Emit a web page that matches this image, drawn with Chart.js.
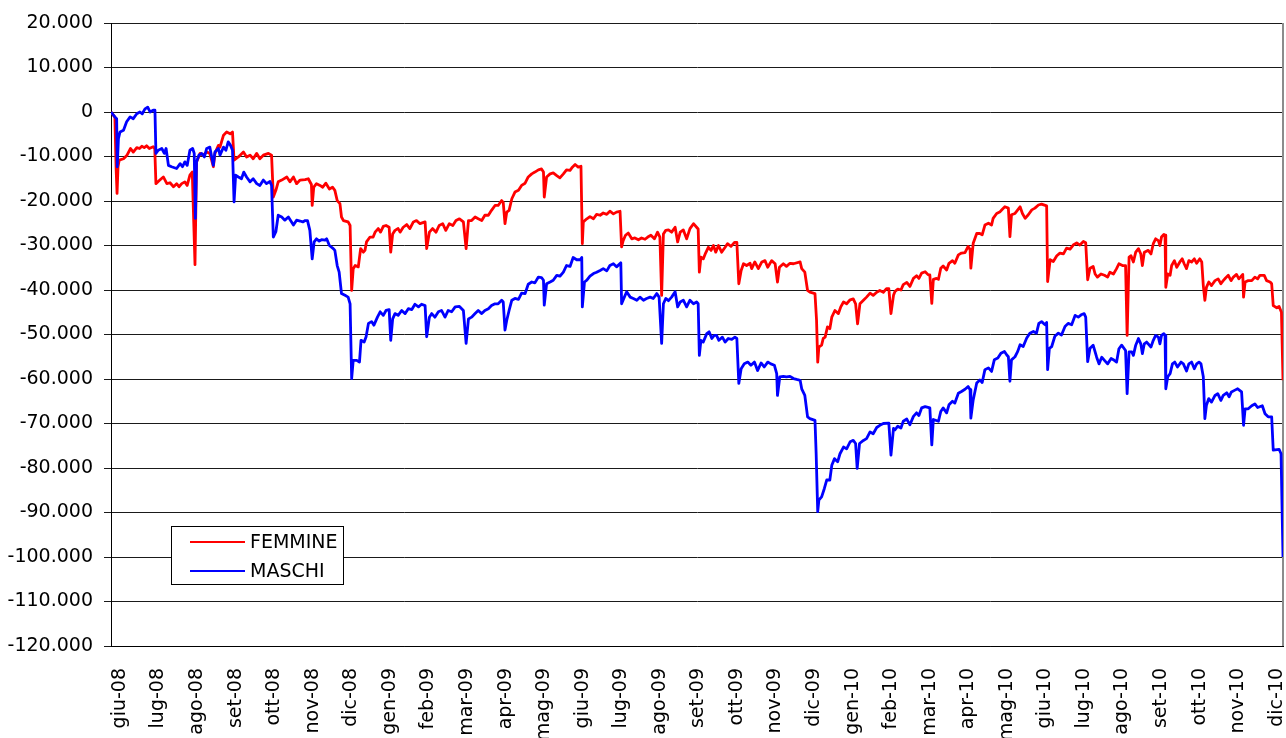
<!DOCTYPE html>
<html>
<head>
<meta charset="utf-8">
<script src="https://cdn.jsdelivr.net/npm/chart.js@4.4.1/dist/chart.umd.min.js"></script>
<style>
  html, body { margin: 0; padding: 0; background: #fff; }
  #wrap { width: 1286px; height: 738px; }
</style>
</head>
<body>
<div id="wrap"><canvas id="grafico" width="1286" height="738"></canvas></div>
<script>
// etichette dei mesi sull'asse x
const mesi = ['giu-08','lug-08','ago-08','set-08','ott-08','nov-08','dic-08','gen-09','feb-09','mar-09','apr-09','mag-09',
  'giu-09','lug-09','ago-09','set-09','ott-09','nov-09','dic-09','gen-10','feb-10','mar-10','apr-10','mag-10',
  'giu-10','lug-10','ago-10','set-10','ott-10','nov-10','dic-10'];

// [mesi da giu-08, saldo]
const femmine = [[0,0],[0.10,-1200],[0.13,-12500],[0.155,-18300],[0.18,-12300],[0.21,-10800],[0.32,-10500],[0.41,-9700],[0.50,-8200],[0.57,-9000],[0.66,-8000],[0.73,-8200],[0.79,-7700],[0.85,-8000],[0.91,-7600],[0.98,-8200],[1.08,-7800],[1.12,-8200],[1.15,-16100],[1.25,-15300],[1.34,-14600],[1.43,-16100],[1.51,-15900],[1.60,-16800],[1.68,-16100],[1.74,-16800],[1.81,-16100],[1.89,-15700],[1.95,-16500],[2.02,-14200],[2.08,-13500],[2.15,-34300],[2.19,-11200],[2.28,-9300],[2.36,-9700],[2.45,-9000],[2.53,-9300],[2.62,-12300],[2.66,-9300],[2.75,-7500],[2.79,-7900],[2.88,-5200],[2.96,-4500],[3.05,-4900],[3.11,-4500],[3.15,-10800],[3.26,-10100],[3.39,-9000],[3.47,-10100],[3.56,-9700],[3.64,-10500],[3.73,-9300],[3.81,-10500],[3.90,-9700],[4.03,-9300],[4.11,-9700],[4.155,-19100],[4.22,-17600],[4.28,-15700],[4.37,-15300],[4.50,-14600],[4.58,-15700],[4.67,-14600],[4.75,-16100],[4.84,-15300],[4.97,-15200],[5.05,-15000],[5.13,-16300],[5.15,-21000],[5.19,-16900],[5.26,-16100],[5.35,-16500],[5.42,-16900],[5.50,-16000],[5.59,-17300],[5.67,-16900],[5.73,-17600],[5.79,-19900],[5.86,-20600],[5.90,-23600],[5.95,-24400],[6.07,-24700],[6.12,-25500],[6.16,-40100],[6.20,-35200],[6.25,-34500],[6.33,-34800],[6.39,-30700],[6.46,-31500],[6.50,-31100],[6.54,-29200],[6.63,-28100],[6.71,-28100],[6.76,-27000],[6.84,-26200],[6.90,-27000],[6.97,-25700],[7.04,-25500],[7.12,-25900],[7.16,-31500],[7.21,-27400],[7.27,-26600],[7.35,-26200],[7.40,-27000],[7.48,-25900],[7.57,-25300],[7.65,-26200],[7.74,-24700],[7.82,-24400],[7.91,-25100],[8.04,-24700],[8.08,-30700],[8.15,-27000],[8.23,-26200],[8.32,-27000],[8.40,-25500],[8.49,-25100],[8.57,-26600],[8.66,-25100],[8.75,-25500],[8.83,-24400],[8.92,-24000],[9.02,-24700],[9.09,-30700],[9.15,-24400],[9.23,-24400],[9.32,-23600],[9.40,-24000],[9.49,-24400],[9.57,-23200],[9.66,-23200],[9.74,-22100],[9.83,-21000],[9.91,-21000],[10.00,-19900],[10.04,-20300],[10.085,-25100],[10.13,-22500],[10.19,-22100],[10.26,-19500],[10.34,-18000],[10.43,-17600],[10.51,-16500],[10.60,-16000],[10.68,-14600],[10.77,-13900],[10.85,-13500],[10.94,-13000],[11.02,-12800],[11.07,-13500],[11.09,-19100],[11.15,-14600],[11.24,-13900],[11.32,-13700],[11.41,-14300],[11.49,-14800],[11.58,-13900],[11.66,-13000],[11.75,-13100],[11.81,-12400],[11.88,-11800],[11.96,-12400],[12.03,-12200],[12.065,-29600],[12.09,-24700],[12.18,-24000],[12.26,-23500],[12.35,-24000],[12.43,-23000],[12.52,-23200],[12.60,-22700],[12.69,-23000],[12.77,-22300],[12.86,-22900],[12.94,-22500],[13.03,-22300],[13.07,-30300],[13.11,-28900],[13.17,-27700],[13.24,-27200],[13.33,-28500],[13.41,-28300],[13.50,-28700],[13.58,-28300],[13.67,-28600],[13.74,-28100],[13.82,-27700],[13.91,-28500],[13.99,-27000],[14.05,-28100],[14.095,-41200],[14.14,-27400],[14.20,-26600],[14.27,-26500],[14.35,-27000],[14.44,-25900],[14.505,-29200],[14.57,-27000],[14.65,-26500],[14.735,-28500],[14.82,-26200],[14.91,-25100],[14.99,-25900],[15.03,-26300],[15.06,-36000],[15.10,-32600],[15.16,-33000],[15.22,-31700],[15.29,-30400],[15.36,-31100],[15.42,-30000],[15.48,-31500],[15.55,-30000],[15.63,-31500],[15.72,-30400],[15.78,-29600],[15.87,-30200],[15.96,-29300],[16.02,-29300],[16.07,-38600],[16.13,-35600],[16.19,-34100],[16.27,-34500],[16.36,-34000],[16.40,-35200],[16.48,-33700],[16.57,-35200],[16.66,-33700],[16.74,-33400],[16.81,-34900],[16.91,-33400],[17.00,-34100],[17.06,-38200],[17.11,-34900],[17.21,-34100],[17.29,-34700],[17.38,-34000],[17.47,-34100],[17.64,-33700],[17.68,-35200],[17.76,-36000],[17.83,-40100],[17.89,-40500],[18.02,-40800],[18.06,-46800],[18.09,-56200],[18.12,-52800],[18.19,-52400],[18.23,-50900],[18.28,-50600],[18.34,-48300],[18.40,-48700],[18.45,-46100],[18.53,-44600],[18.62,-45300],[18.68,-43800],[18.75,-42700],[18.83,-43100],[18.92,-42200],[19.00,-42000],[19.06,-43100],[19.11,-47600],[19.17,-43100],[19.26,-42300],[19.34,-41600],[19.43,-40700],[19.51,-41200],[19.60,-40500],[19.68,-40100],[19.77,-40500],[19.85,-39700],[19.91,-39700],[19.965,-45300],[20.03,-41200],[20.07,-40300],[20.14,-39800],[20.22,-40000],[20.28,-38800],[20.37,-38300],[20.45,-39200],[20.54,-37400],[20.62,-36800],[20.68,-37400],[20.75,-36200],[20.84,-35900],[20.92,-36600],[20.96,-36600],[21.01,-43000],[21.05,-37600],[21.13,-37400],[21.18,-37600],[21.24,-35100],[21.30,-34600],[21.39,-35500],[21.45,-34000],[21.54,-33400],[21.60,-34000],[21.69,-32100],[21.77,-31700],[21.86,-31600],[21.94,-30200],[21.99,-30900],[22.01,-35100],[22.07,-29500],[22.16,-27300],[22.24,-27300],[22.30,-27600],[22.37,-25400],[22.46,-25000],[22.54,-25400],[22.58,-23900],[22.67,-22800],[22.76,-22400],[22.81,-21900],[22.88,-21300],[22.97,-21600],[23.01,-28000],[23.05,-23100],[23.14,-22800],[23.21,-22000],[23.27,-21300],[23.33,-22800],[23.40,-23900],[23.48,-23100],[23.57,-22000],[23.65,-21600],[23.74,-20900],[23.82,-20700],[23.95,-21100],[23.975,-38100],[24.04,-33200],[24.12,-33600],[24.21,-32300],[24.29,-31700],[24.38,-31900],[24.46,-30600],[24.55,-30800],[24.63,-29900],[24.72,-29400],[24.80,-29900],[24.89,-29100],[24.95,-29400],[25.00,-37700],[25.06,-35100],[25.14,-34700],[25.19,-36400],[25.25,-37100],[25.34,-36400],[25.43,-36700],[25.51,-37100],[25.57,-36000],[25.66,-36400],[25.74,-35200],[25.80,-34100],[25.89,-34500],[25.97,-34500],[26.01,-50200],[26.06,-32600],[26.11,-32300],[26.17,-33700],[26.23,-31500],[26.30,-30700],[26.36,-31900],[26.40,-34500],[26.45,-31500],[26.55,-31100],[26.62,-31900],[26.68,-29600],[26.74,-28500],[26.81,-28900],[26.85,-30000],[26.89,-28100],[26.95,-27500],[26.98,-27700],[27.00,-39400],[27.05,-36400],[27.11,-36700],[27.15,-34500],[27.22,-33400],[27.28,-34900],[27.36,-33700],[27.42,-33000],[27.47,-34100],[27.53,-35200],[27.59,-33400],[27.66,-33700],[27.73,-33000],[27.79,-34000],[27.87,-33000],[27.92,-33700],[27.96,-39000],[28.00,-42300],[28.04,-39400],[28.10,-38200],[28.17,-39000],[28.26,-37900],[28.34,-37500],[28.41,-38600],[28.47,-37900],[28.53,-37300],[28.60,-36700],[28.67,-37900],[28.73,-37100],[28.81,-36500],[28.87,-37500],[28.97,-36500],[28.99,-41600],[29.03,-38200],[29.11,-37900],[29.20,-37900],[29.28,-37100],[29.35,-37500],[29.41,-36700],[29.52,-36700],[29.58,-37900],[29.67,-38200],[29.71,-38600],[29.75,-43500],[29.84,-44000],[29.90,-43700],[29.96,-45000],[30.00,-60300]];

const maschi = [[0,0],[0.10,-1100],[0.145,-1500],[0.16,-12300],[0.19,-6000],[0.23,-4500],[0.32,-4100],[0.40,-2200],[0.49,-1100],[0.57,-1500],[0.66,-400],[0.74,0],[0.80,-400],[0.87,700],[0.94,1100],[1.00,0],[1.08,400],[1.125,400],[1.15,-9300],[1.21,-8600],[1.30,-8200],[1.365,-9300],[1.41,-8200],[1.47,-12000],[1.55,-12300],[1.68,-12700],[1.77,-11600],[1.83,-12300],[1.89,-11200],[1.95,-12000],[2.02,-8600],[2.09,-8200],[2.13,-9300],[2.16,-23900],[2.19,-11200],[2.25,-9700],[2.32,-9300],[2.39,-10100],[2.45,-8200],[2.53,-7900],[2.62,-12000],[2.66,-9000],[2.75,-8200],[2.79,-9700],[2.88,-7900],[2.94,-8600],[3.00,-6700],[3.06,-7500],[3.11,-8600],[3.15,-20200],[3.19,-14200],[3.26,-14600],[3.34,-15000],[3.40,-13500],[3.47,-14600],[3.56,-15700],[3.64,-15000],[3.73,-16100],[3.81,-16500],[3.90,-15300],[3.98,-16100],[4.07,-15600],[4.11,-16500],[4.155,-28100],[4.22,-26900],[4.28,-23200],[4.37,-23600],[4.45,-24300],[4.54,-23600],[4.67,-25400],[4.75,-24300],[4.84,-24500],[4.91,-24700],[4.97,-24400],[5.03,-24400],[5.09,-26600],[5.15,-33000],[5.20,-29200],[5.26,-28500],[5.33,-29000],[5.39,-28700],[5.48,-28800],[5.52,-28500],[5.59,-30000],[5.69,-30700],[5.73,-31100],[5.79,-34500],[5.84,-36000],[5.90,-40800],[5.99,-41200],[6.07,-41600],[6.12,-43100],[6.16,-59900],[6.20,-55800],[6.29,-55800],[6.36,-56200],[6.40,-51300],[6.48,-51700],[6.53,-50500],[6.59,-47500],[6.67,-47100],[6.73,-47900],[6.82,-46100],[6.89,-44900],[6.97,-45700],[7.04,-44600],[7.12,-44400],[7.16,-51300],[7.21,-46500],[7.27,-45300],[7.35,-45700],[7.44,-44600],[7.53,-45300],[7.61,-44200],[7.70,-44400],[7.78,-43200],[7.87,-43800],[7.95,-43200],[8.04,-43500],[8.08,-50500],[8.15,-46100],[8.21,-45300],[8.29,-46100],[8.38,-44900],[8.46,-44600],[8.55,-46100],[8.63,-44600],[8.72,-44900],[8.81,-43800],[8.92,-43700],[9.02,-44600],[9.09,-52000],[9.15,-46500],[9.23,-46100],[9.32,-45300],[9.40,-44600],[9.49,-45300],[9.57,-44600],[9.66,-44200],[9.74,-43500],[9.83,-43100],[9.91,-43100],[10.00,-42300],[10.04,-42700],[10.085,-49000],[10.13,-46800],[10.19,-44600],[10.26,-42300],[10.34,-41900],[10.43,-42100],[10.51,-40700],[10.60,-40800],[10.68,-38700],[10.77,-38200],[10.85,-38400],[10.94,-37100],[11.02,-37200],[11.07,-37800],[11.09,-43400],[11.15,-38600],[11.24,-38200],[11.32,-37800],[11.41,-36700],[11.49,-36900],[11.58,-36000],[11.66,-34500],[11.75,-34700],[11.83,-32700],[11.92,-33200],[12.01,-33200],[12.05,-32700],[12.065,-43800],[12.12,-38200],[12.18,-37800],[12.26,-36900],[12.35,-36300],[12.43,-36000],[12.52,-35600],[12.60,-35200],[12.69,-35700],[12.77,-34500],[12.86,-34100],[12.94,-34800],[13.05,-33900],[13.07,-43100],[13.14,-41600],[13.20,-40400],[13.29,-41600],[13.37,-41900],[13.46,-42300],[13.54,-41600],[13.63,-42300],[13.71,-41900],[13.80,-41600],[13.88,-41900],[13.97,-40800],[14.03,-41600],[14.095,-52000],[14.14,-43100],[14.20,-41900],[14.27,-42400],[14.35,-41600],[14.44,-40400],[14.505,-43800],[14.57,-42700],[14.65,-42300],[14.735,-43800],[14.82,-42300],[14.91,-43100],[14.99,-42700],[15.03,-43100],[15.06,-54700],[15.10,-51300],[15.16,-51700],[15.25,-49800],[15.31,-49400],[15.38,-50900],[15.44,-50200],[15.50,-50200],[15.56,-51300],[15.65,-50600],[15.72,-51700],[15.80,-50900],[15.89,-51100],[15.97,-50600],[16.02,-50900],[16.07,-61000],[16.13,-57700],[16.21,-56600],[16.30,-56200],[16.38,-56900],[16.47,-56200],[16.55,-58100],[16.64,-56400],[16.72,-57300],[16.81,-56200],[16.89,-56600],[16.98,-56900],[17.04,-58800],[17.06,-63700],[17.12,-59500],[17.21,-59400],[17.29,-59500],[17.38,-59400],[17.47,-59900],[17.55,-60100],[17.64,-60300],[17.68,-62200],[17.76,-63700],[17.83,-68500],[17.89,-68900],[18.02,-69300],[18.05,-76800],[18.09,-89800],[18.12,-87200],[18.19,-86500],[18.26,-84600],[18.32,-82700],[18.40,-82700],[18.45,-79400],[18.52,-77900],[18.60,-78600],[18.66,-76800],[18.75,-75300],[18.83,-75700],[18.92,-74100],[19.00,-73800],[19.06,-74500],[19.10,-80100],[19.16,-74500],[19.26,-73800],[19.34,-73400],[19.43,-71900],[19.51,-72300],[19.60,-70900],[19.68,-70400],[19.77,-70000],[19.91,-69900],[19.965,-77100],[20.03,-71100],[20.07,-71400],[20.14,-70600],[20.22,-71000],[20.28,-69500],[20.37,-69000],[20.45,-70300],[20.54,-68400],[20.62,-67600],[20.68,-68200],[20.75,-66500],[20.84,-66200],[20.96,-66500],[21.01,-74800],[21.05,-69100],[21.18,-69500],[21.24,-67300],[21.30,-66500],[21.39,-67600],[21.45,-65800],[21.54,-65000],[21.60,-65400],[21.69,-63200],[21.77,-62800],[21.86,-62300],[21.94,-61700],[21.99,-62400],[22.01,-68800],[22.07,-64700],[22.16,-60900],[22.24,-60200],[22.30,-60800],[22.37,-57900],[22.46,-57500],[22.54,-58300],[22.61,-55700],[22.70,-55300],[22.78,-54200],[22.87,-53800],[22.93,-54600],[22.97,-55000],[23.01,-60500],[23.05,-55700],[23.14,-55000],[23.21,-53800],[23.27,-52300],[23.35,-52700],[23.44,-50800],[23.52,-49700],[23.61,-49300],[23.69,-49700],[23.75,-47500],[23.82,-47100],[23.91,-47800],[23.95,-47300],[23.975,-57900],[24.02,-53100],[24.08,-52700],[24.16,-50400],[24.25,-49700],[24.33,-50100],[24.42,-48200],[24.50,-47500],[24.59,-47800],[24.68,-45700],[24.76,-46100],[24.85,-45500],[24.91,-45300],[24.95,-46100],[25.00,-56100],[25.06,-53100],[25.14,-52400],[25.23,-55100],[25.29,-56600],[25.36,-55100],[25.43,-55800],[25.51,-56600],[25.60,-55400],[25.68,-55800],[25.74,-56200],[25.80,-53200],[25.87,-52400],[25.97,-53600],[26.01,-63300],[26.06,-53900],[26.13,-53900],[26.17,-54700],[26.23,-52400],[26.30,-50900],[26.36,-52100],[26.40,-54300],[26.45,-52100],[26.51,-51700],[26.62,-52800],[26.68,-51300],[26.74,-50200],[26.81,-50600],[26.85,-52100],[26.89,-50200],[26.95,-49800],[26.98,-50200],[27.00,-62200],[27.05,-59500],[27.11,-58800],[27.17,-56600],[27.23,-56200],[27.30,-57300],[27.39,-56200],[27.45,-56600],[27.53,-58200],[27.59,-56600],[27.66,-56200],[27.73,-57700],[27.79,-56600],[27.85,-56200],[27.90,-56600],[27.96,-59500],[28.00,-68900],[28.04,-65900],[28.10,-64400],[28.17,-65200],[28.26,-63700],[28.33,-63300],[28.41,-64800],[28.47,-63700],[28.56,-63100],[28.62,-64000],[28.68,-62900],[28.77,-62500],[28.84,-62200],[28.94,-62900],[28.99,-70400],[29.03,-66700],[29.11,-66700],[29.20,-66000],[29.28,-65600],[29.35,-66400],[29.47,-66000],[29.54,-67800],[29.62,-68500],[29.71,-68500],[29.75,-76000],[29.90,-75800],[29.95,-76800],[30.00,-100000]];

const font = '"DejaVu Sans", Verdana, sans-serif';
Chart.defaults.font.family = font;
Chart.defaults.font.size = 19;
Chart.defaults.color = '#000';

// 20000 -> "20.000"
function migliaia(v) {
  const s = Math.abs(v).toString().replace(/\B(?=(\d{3})+(?!\d))/g, '.');
  return (v < 0 ? '-' : '') + s;
}

// bordo destro grigio (sotto le linee) + legenda dentro l'area del grafico
const cornice = {
  id: 'cornice',
  beforeDatasetsDraw(chart) {
    const { ctx, chartArea: a } = chart;
    ctx.save();
    ctx.strokeStyle = '#8c8c8c';
    ctx.lineWidth = 2;
    ctx.beginPath();
    ctx.moveTo(a.right, a.top);
    ctx.lineTo(a.right, a.bottom);
    ctx.stroke();
    ctx.restore();
  },
  afterDraw(chart) {
    const { ctx, chartArea: a } = chart;
    ctx.save();
    const x = a.left + 60, y = a.top + 503, w = 172, h = 58;
    ctx.fillStyle = '#fff';
    ctx.fillRect(x, y, w, h);
    ctx.strokeStyle = '#000';
    ctx.lineWidth = 1;
    ctx.strokeRect(x + 0.5, y + 0.5, w, h);
    ctx.font = '19px ' + font;
    ctx.textBaseline = 'middle';
    chart.data.datasets.forEach((ds, i) => {
      const cy = y + 16 + i * 29;
      ctx.strokeStyle = ds.borderColor;
      ctx.lineWidth = 2;
      ctx.beginPath();
      ctx.moveTo(x + 19, cy);
      ctx.lineTo(x + 74, cy);
      ctx.stroke();
      ctx.fillStyle = '#000';
      ctx.fillText(ds.label, x + 79, cy + 1);
    });
    ctx.restore();
  }
};

const ctx = document.getElementById('grafico').getContext('2d');
const chart = new Chart(ctx, {
  type: 'line',
  data: {
    datasets: [
      { label: 'FEMMINE', data: femmine, borderColor: '#ff0000', order: 1 },
      { label: 'MASCHI', data: maschi, borderColor: '#0000ff', order: 0 }
    ]
  },
  options: {
    responsive: false,
    animation: false,
    layout: { padding: { top: 23, right: 3, left: 0, bottom: 0 } },
    elements: {
      line: { borderWidth: 2.8, tension: 0, fill: false, borderJoinStyle: 'round' },
      point: { radius: 0 }
    },
    plugins: { legend: { display: false }, tooltip: { enabled: false } },
    scales: {
      x: {
        type: 'linear',
        min: 0,
        max: 30,
        grid: { display: false, drawTicks: false },
        border: { display: true, color: '#000', width: 1 },
        afterBuildTicks: s => { s.ticks = mesi.map((m, i) => ({ value: 0.23 + 0.987 * i })); },
        afterFit: s => { s.height = 92; s.paddingLeft = 0; s.paddingRight = 0; },
        ticks: {
          autoSkip: false,
          minRotation: 90,
          maxRotation: 90,
          padding: 22,
          callback: (v, i) => mesi[i]
        }
      },
      y: {
        min: -120000,
        max: 20000,
        grid: { color: '#1a1a1a', tickLength: 7 },
        border: { color: '#000', width: 1 },
        afterFit: s => { s.width = 111; },
        ticks: { stepSize: 10000, padding: 11, callback: v => migliaia(v) }
      }
    }
  },
  plugins: [cornice]
});
</script>
</body>
</html>
